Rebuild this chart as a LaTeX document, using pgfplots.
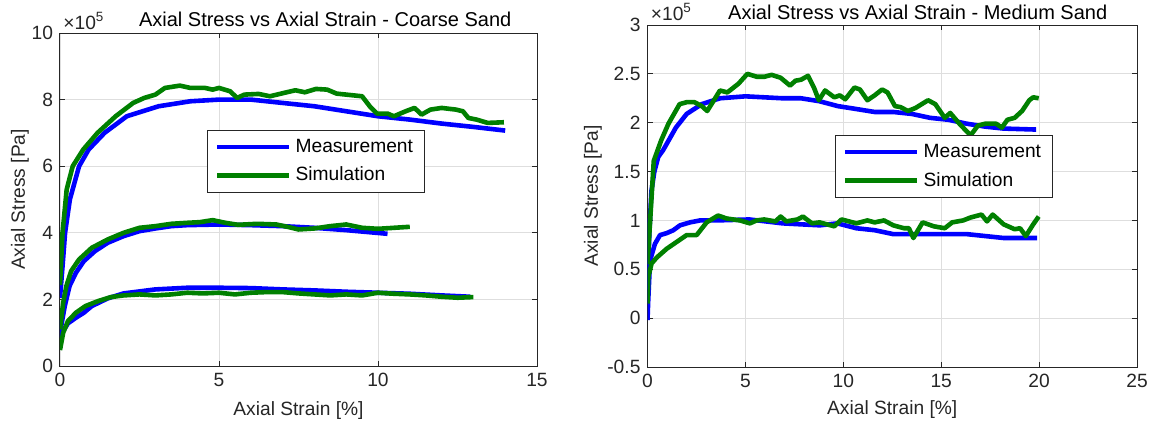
\documentclass[border=0pt]{standalone}
\usepackage{fontspec}
\setmainfont{Liberation Sans}
\usepackage{pgfplots}
\pgfplotsset{compat=1.18}

\definecolor{mblue}{rgb}{0,0,1}
\definecolor{mgreen}{rgb}{0,0.5,0}
\definecolor{axcol}{rgb}{0.15,0.15,0.15}
\definecolor{gridcol}{rgb}{0.87,0.87,0.87}
\newcommand\fs{\fontsize{9.6}{11}\selectfont}
\newcommand\fst{\fontsize{10}{12}\selectfont}

\pgfplotsset{
  matlab/.style={
    scale only axis,
    anchor=south west,
    axis line style={axcol, line width=0.5pt},
    tick style={axcol, line width=0.5pt},
    tick align=inside,
    major tick length=2.5pt,
    grid=major,
    major grid style={gridcol, line width=0.4pt},
    ticklabel style={font=\fs, text=axcol},
    label style={font=\fs, text=axcol},
    title style={font=\fst, text=black},
    every axis title shift=0pt,
    scaled ticks=false,
    /pgf/number format/assume math mode=true,
    legend cell align=left,
    legend style={draw=axcol, line width=0.5pt, font=\fs, anchor=north west,
      inner xsep=3.8pt, inner ysep=2.2pt, row sep=2pt},
    legend image code/.code={\draw[##1] (0pt,0pt) -- (36pt,0pt);},
    every axis plot/.append style={line width=2.3pt, line join=round, mark=none},
  },
}

\begin{document}
\begin{tikzpicture}
\path[use as bounding box] (0,0) rectangle (576pt,212.5pt);

% ---------- left: coarse sand ----------
\begin{axis}[matlab, name=coarse,
  at={(30pt,29.5pt)},
  width=238.5pt, height=166.5pt,
  xmin=0, xmax=15, ymin=0, ymax=10,
  xtick={0,5,10,15}, ytick={0,2,4,6,8,10},
  xlabel={Axial Strain [\%]}, ylabel={Axial Stress [Pa]},
  xlabel style={at={(rel axis cs:0.5,0)}, anchor=center, yshift=-22.5pt},
  ylabel style={at={(rel axis cs:0,0.5)}, anchor=center, yshift=20pt},
  title={Axial Stress vs Axial Strain - Coarse Sand},
  title style={at={(rel axis cs:0.556,1)}, anchor=center, yshift=7pt},
  legend style={at={(rel axis cs:0.308,0.709)}},
]
\addplot[mblue] coordinates {
  (0,2.05) (0.08,3.0) (0.16,4.0) (0.31,5.0) (0.6,6.0) (0.9,6.5) (1.4,7.0)
  (2.1,7.5) (3.1,7.8) (4.1,7.95) (5.0,8.0) (6.0,8.0) (7.0,7.9) (8.0,7.8)
  (9.0,7.65) (10.0,7.5) (11.0,7.4) (12.0,7.28) (13.0,7.18) (14.0,7.07)
};
\addlegendentry{Measurement}
\addplot[mblue, forget plot] coordinates {
  (0,1.0) (0.15,1.8) (0.3,2.4) (0.5,2.8) (0.75,3.15) (1.1,3.45) (1.5,3.7)
  (2.0,3.9) (2.5,4.05) (3.0,4.13) (3.5,4.2) (4.0,4.23) (5.0,4.25) (6.0,4.23)
  (7.0,4.2) (8.0,4.15) (9.0,4.08) (10.3,3.97)
};
\addplot[mblue, forget plot] coordinates {
  (0,0.85) (0.1,1.05) (0.25,1.28) (0.5,1.45) (0.75,1.6) (1.0,1.8) (1.5,2.03)
  (2.0,2.18) (3.0,2.3) (4.0,2.35) (5.0,2.35) (6.0,2.34) (7.0,2.3) (8.0,2.27)
  (9.0,2.23) (10.0,2.2) (11.0,2.17) (12.0,2.12) (12.9,2.08)
};
\addplot[mgreen] coordinates {
  (0,2.43) (0.08,4.0) (0.21,5.3) (0.4,6.0) (0.73,6.5) (1.18,7.0) (1.75,7.5)
  (2.3,7.9) (2.65,8.05) (3.0,8.15) (3.3,8.35) (3.77,8.42) (4.1,8.35) (4.56,8.35)
  (4.8,8.3) (5.0,8.35) (5.35,8.25) (5.57,8.05) (5.8,8.15) (6.25,8.17) (6.6,8.1)
  (7.04,8.2) (7.4,8.28) (7.7,8.22) (8.05,8.32) (8.4,8.3) (8.7,8.18) (9.3,8.12)
  (9.5,8.1) (9.74,7.8) (9.97,7.58) (10.3,7.58) (10.5,7.5) (10.87,7.65)
  (11.15,7.75) (11.37,7.55) (11.65,7.7) (12.0,7.75) (12.45,7.7) (12.67,7.65)
  (12.84,7.45) (13.1,7.4) (13.45,7.3) (13.96,7.32)
};
\addlegendentry{Simulation}
\addplot[mgreen, forget plot] coordinates {
  (0,1.1) (0.1,1.9) (0.2,2.4) (0.35,2.85) (0.6,3.2) (1.0,3.55) (1.5,3.8)
  (2.0,4.0) (2.5,4.15) (3.0,4.2) (3.5,4.27) (4.0,4.3) (4.4,4.32) (4.8,4.38)
  (5.2,4.3) (5.6,4.24) (6.2,4.27) (6.8,4.25) (7.2,4.17) (7.5,4.1) (8.0,4.13)
  (8.5,4.2) (9.0,4.25) (9.5,4.15) (10.0,4.12) (10.5,4.15) (11.0,4.18)
};
\addplot[mgreen, forget plot] coordinates {
  (0,0.48) (0.1,1.0) (0.25,1.35) (0.5,1.6) (0.8,1.8) (1.2,1.95) (1.6,2.07)
  (2.0,2.12) (2.5,2.15) (3.0,2.12) (3.5,2.15) (4.0,2.2) (4.5,2.18) (5.0,2.2)
  (5.5,2.15) (6.0,2.2) (6.5,2.22) (7.0,2.22) (7.5,2.18) (8.0,2.15) (8.5,2.12)
  (9.0,2.15) (9.5,2.12) (10.0,2.2) (10.5,2.17) (11.0,2.15) (11.5,2.12)
  (12.0,2.08) (12.5,2.05) (13.0,2.07)
};
\end{axis}
\node[anchor=base west, font=\fs, text=axcol, inner sep=0pt]
  at ([xshift=1.5pt, yshift=2pt]coarse.north west) {×10\textsuperscript{5}};

% ---------- right: medium sand ----------
\begin{axis}[matlab, name=medium,
  at={(323.75pt,29pt)},
  width=244.75pt, height=171pt,
  xmin=0, xmax=25, ymin=-0.5, ymax=3,
  xtick={0,5,10,15,20,25}, ytick={-0.5,0,0.5,1,1.5,2,2.5,3},
  yticklabels={-0.5,0,0.5,1,1.5,2,2.5,3},
  xlabel={Axial Strain [\%]}, ylabel={Axial Stress [Pa]},
  xlabel style={at={(rel axis cs:0.5,0)}, anchor=center, yshift=-21.5pt},
  ylabel style={at={(rel axis cs:0,0.5)}, anchor=center, yshift=27.25pt},
  title={Axial Stress vs Axial Strain - Medium Sand},
  title style={at={(rel axis cs:0.552,1)}, anchor=center, yshift=6.2pt},
  legend style={at={(rel axis cs:0.383,0.678)}},
]
\addplot[mblue] coordinates {
  (0,0.3) (0.1,0.9) (0.2,1.3) (0.35,1.5) (0.55,1.65) (0.8,1.72) (1.45,1.95)
  (2.0,2.09) (2.77,2.19) (3.7,2.25) (5.0,2.27) (6.9,2.25) (7.84,2.25)
  (8.78,2.22) (9.72,2.17) (10.67,2.14) (11.6,2.11) (12.55,2.11) (13.5,2.09)
  (14.43,2.05) (15.37,2.03) (16.3,1.99) (17.25,1.96) (18.2,1.94) (19.85,1.93)
};
\addlegendentry{Measurement}
\addplot[mblue, forget plot] coordinates {
  (0,-0.02) (0.03,0.15) (0.13,0.59) (0.38,0.76) (0.64,0.85) (0.98,0.87)
  (1.32,0.9) (1.66,0.95) (2.17,0.98) (2.68,1.0) (3.5,1.0) (5.2,1.01) (6.9,0.97)
  (8.8,0.95) (9.7,0.97) (10.67,0.92) (11.6,0.9) (12.55,0.86) (13.5,0.86)
  (15.37,0.86) (16.3,0.86) (17.25,0.84) (18.2,0.82) (19.9,0.82)
};
\addplot[mgreen] coordinates {
  (0,0.55) (0.32,1.61) (0.7,1.82) (1.07,1.99) (1.64,2.19) (2.0,2.21) (2.4,2.21)
  (2.77,2.17) (3.05,2.12) (3.33,2.21) (3.7,2.33) (4.08,2.31) (4.65,2.4)
  (5.1,2.5) (5.59,2.47) (5.96,2.47) (6.34,2.49) (6.8,2.46) (7.28,2.38)
  (7.56,2.43) (7.84,2.44) (8.2,2.48) (8.5,2.36) (8.75,2.23) (9.07,2.33)
  (9.54,2.26) (9.82,2.28) (10.1,2.24) (10.57,2.36) (10.85,2.34) (11.23,2.23)
  (11.6,2.28) (11.98,2.34) (12.26,2.31) (12.64,2.17) (12.92,2.16) (13.3,2.12)
  (13.68,2.15) (14.33,2.23) (14.7,2.19) (15.18,2.05) (15.46,2.1) (15.93,1.99)
  (16.5,1.87) (16.87,1.97) (17.25,1.99) (17.8,1.99) (18.1,1.95) (18.38,2.03)
  (18.75,2.05) (19.13,2.12) (19.5,2.23) (19.7,2.26) (19.98,2.25)
};
\addlegendentry{Simulation}
\addplot[mgreen, forget plot] coordinates {
  (0,0.15) (0.04,0.42) (0.21,0.56) (0.47,0.62) (0.98,0.71) (1.49,0.78)
  (2.0,0.85) (2.51,0.85) (3.02,0.98) (3.6,1.05) (4.04,1.02) (4.72,1.0)
  (5.23,0.97) (5.57,1.0) (5.96,1.01) (6.53,0.99) (6.8,1.04) (7.09,0.99)
  (7.66,1.01) (7.94,1.04) (8.4,0.97) (8.79,0.98) (9.54,0.94) (9.91,1.01)
  (10.67,0.97) (11.23,1.0) (11.6,0.98) (12.08,1.0) (12.55,0.95) (13.1,0.92)
  (13.35,0.92) (13.58,0.82) (14.05,0.98) (14.62,0.94) (15.18,0.92) (15.56,0.98)
  (16.12,1.0) (16.5,1.03) (17.06,1.06) (17.34,0.99) (17.63,1.06) (18.19,0.96)
  (18.75,0.91) (19.03,0.92) (19.32,0.84) (19.7,0.96) (19.98,1.04)
};
\end{axis}
\node[anchor=base west, font=\fs, text=axcol, inner sep=0pt]
  at ([xshift=1.5pt, yshift=2.5pt]medium.north west) {×10\textsuperscript{5}};
\end{tikzpicture}
\end{document}
